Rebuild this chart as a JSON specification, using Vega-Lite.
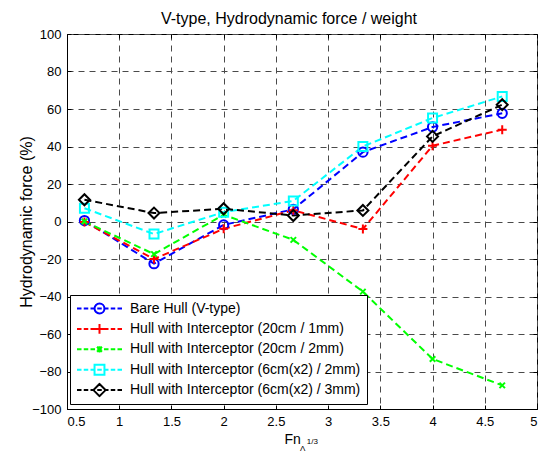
{
  "$schema": "https://vega.github.io/schema/vega-lite/v6.json",
  "width": 470,
  "height": 375,
  "autosize": {"type": "none"},
  "padding": {"left": 67, "top": 34, "right": 7, "bottom": 44},
  "background": "white",
  "config": {
    "font": "Liberation Sans",
    "view": {"stroke": "black", "strokeWidth": 1},
    "axis": {
      "labelFont": "Liberation Sans",
      "labelFontSize": 13,
      "labelColor": "black",
      "titleFont": "Liberation Sans",
      "titleFontSize": 16,
      "titleFontWeight": "normal",
      "titleColor": "black",
      "domainColor": "black",
      "tickColor": "black",
      "gridColor": "#4a4a4a",
      "gridDash": [6, 5],
      "gridWidth": 1,
      "gridOpacity": 1
    },
    "title": {"font": "Liberation Sans", "fontSize": 16, "fontWeight": "normal", "color": "black"}
  },
  "title": {"text": "V-type, Hydrodynamic force / weight", "anchor": "middle", "offset": 1, "dx": -13},
  "resolve": {"axis": {"x": "independent", "y": "independent"}},
  "data": {
    "values": [
      {"series": "Bare Hull (V-type)", "fn": 0.667, "force": 0.5},
      {"series": "Bare Hull (V-type)", "fn": 1.333, "force": -22.5},
      {"series": "Bare Hull (V-type)", "fn": 2.0, "force": -1.8},
      {"series": "Bare Hull (V-type)", "fn": 2.667, "force": 6.5},
      {"series": "Bare Hull (V-type)", "fn": 3.333, "force": 37.0},
      {"series": "Bare Hull (V-type)", "fn": 4.0, "force": 50.4},
      {"series": "Bare Hull (V-type)", "fn": 4.667, "force": 57.7},
      {"series": "Hull with Interceptor (20cm / 1mm)", "fn": 0.667, "force": -0.3},
      {"series": "Hull with Interceptor (20cm / 1mm)", "fn": 1.333, "force": -20.0},
      {"series": "Hull with Interceptor (20cm / 1mm)", "fn": 2.0, "force": -3.9},
      {"series": "Hull with Interceptor (20cm / 1mm)", "fn": 2.667, "force": 6.0},
      {"series": "Hull with Interceptor (20cm / 1mm)", "fn": 3.333, "force": -4.0},
      {"series": "Hull with Interceptor (20cm / 1mm)", "fn": 4.0, "force": 40.4},
      {"series": "Hull with Interceptor (20cm / 1mm)", "fn": 4.667, "force": 49.0},
      {"series": "Hull with Interceptor (20cm / 2mm)", "fn": 0.667, "force": 0.0},
      {"series": "Hull with Interceptor (20cm / 2mm)", "fn": 1.333, "force": -17.4},
      {"series": "Hull with Interceptor (20cm / 2mm)", "fn": 2.0, "force": 3.6},
      {"series": "Hull with Interceptor (20cm / 2mm)", "fn": 2.667, "force": -9.8},
      {"series": "Hull with Interceptor (20cm / 2mm)", "fn": 3.333, "force": -37.4},
      {"series": "Hull with Interceptor (20cm / 2mm)", "fn": 4.0, "force": -73.3},
      {"series": "Hull with Interceptor (20cm / 2mm)", "fn": 4.667, "force": -87.4},
      {"series": "Hull with Interceptor (6cm(x2) / 2mm)", "fn": 0.667, "force": 7.1},
      {"series": "Hull with Interceptor (6cm(x2) / 2mm)", "fn": 1.333, "force": -6.7},
      {"series": "Hull with Interceptor (6cm(x2) / 2mm)", "fn": 2.0, "force": 5.0},
      {"series": "Hull with Interceptor (6cm(x2) / 2mm)", "fn": 2.667, "force": 11.0},
      {"series": "Hull with Interceptor (6cm(x2) / 2mm)", "fn": 3.333, "force": 40.0},
      {"series": "Hull with Interceptor (6cm(x2) / 2mm)", "fn": 4.0, "force": 55.2},
      {"series": "Hull with Interceptor (6cm(x2) / 2mm)", "fn": 4.667, "force": 66.7},
      {"series": "Hull with Interceptor (6cm(x2) / 3mm)", "fn": 0.667, "force": 11.6},
      {"series": "Hull with Interceptor (6cm(x2) / 3mm)", "fn": 1.333, "force": 4.5},
      {"series": "Hull with Interceptor (6cm(x2) / 3mm)", "fn": 2.0, "force": 6.8},
      {"series": "Hull with Interceptor (6cm(x2) / 3mm)", "fn": 2.667, "force": 3.2},
      {"series": "Hull with Interceptor (6cm(x2) / 3mm)", "fn": 3.333, "force": 5.9},
      {"series": "Hull with Interceptor (6cm(x2) / 3mm)", "fn": 4.0, "force": 45.4},
      {"series": "Hull with Interceptor (6cm(x2) / 3mm)", "fn": 4.667, "force": 62.3}
    ]
  },
  "encoding": {
    "x": {
      "field": "fn", "type": "quantitative",
      "scale": {"domain": [0.5, 5], "nice": false, "zero": false},
      "axis": {"values": [0.5, 1, 1.5, 2, 2.5, 3, 3.5, 4, 4.5, 5], "format": "~g", "title": null, "tickSize": -4, "labelPadding": 10}
    },
    "y": {
      "field": "force", "type": "quantitative",
      "scale": {"domain": [-100, 100], "nice": false, "zero": false},
      "axis": {"values": [-100, -80, -60, -40, -20, 0, 20, 40, 60, 80, 100], "title": "Hydrodynamic force (%)", "tickSize": -4, "labelPadding": 10, "titlePadding": -3}
    }
  },
  "layer": [
    {
      "encoding": {
        "stroke": {
          "field": "series", "type": "nominal",
          "scale": {"range": ["#0000ff", "#ff0000", "#00ff00", "#00ffff", "#000000"]},
          "legend": null
        }
      },
      "layer": [
        {"mark": {"type": "line", "strokeDash": [7, 4], "strokeWidth": 2}},
        {
          "transform": [{"filter": "datum.series == 'Bare Hull (V-type)'"}],
          "mark": {"type": "point", "shape": "circle", "filled": false, "size": 86, "strokeWidth": 2, "opacity": 1}
        },
        {
          "transform": [{"filter": "datum.series == 'Hull with Interceptor (20cm / 1mm)'"}],
          "mark": {"type": "point", "shape": "M-1,0H1M0,-1V1", "filled": false, "size": 81, "strokeWidth": 2, "opacity": 1}
        },
        {
          "transform": [{"filter": "datum.series == 'Hull with Interceptor (20cm / 2mm)'"}],
          "mark": {"type": "point", "shape": "M-1,-1L1,1M-1,1L1,-1", "filled": false, "size": 30, "strokeWidth": 2, "opacity": 1}
        },
        {
          "transform": [{"filter": "datum.series == 'Hull with Interceptor (6cm(x2) / 2mm)'"}],
          "mark": {"type": "point", "shape": "square", "filled": false, "size": 81, "strokeWidth": 2, "opacity": 1}
        },
        {
          "transform": [{"filter": "datum.series == 'Hull with Interceptor (6cm(x2) / 3mm)'"}],
          "mark": {"type": "point", "shape": "diamond", "filled": false, "size": 121, "strokeWidth": 2, "opacity": 1}
        }
      ]
    },
    {
      "mark": {"type": "point", "filled": false, "opacity": 0, "strokeWidth": 2},
      "encoding": {
        "x": {"field": "fn", "type": "quantitative", "axis": null},
        "y": {"field": "force", "type": "quantitative", "axis": null},
        "color": {
          "field": "series", "type": "nominal",
          "scale": {
            "domain": ["Bare Hull (V-type)", "Hull with Interceptor (20cm / 1mm)", "Hull with Interceptor (20cm / 2mm)", "Hull with Interceptor (6cm(x2) / 2mm)", "Hull with Interceptor (6cm(x2) / 3mm)"],
            "range": ["#0000ff", "#ff0000", "#00ff00", "#00ffff", "#000000"]
          },
          "legend": {
            "title": null,
            "orient": "none",
            "legendX": 3,
            "legendY": 261,
            "padding": 6,
            "strokeColor": "black",
            "fillColor": "white",
            "symbolSize": 2025,
            "symbolStrokeWidth": 2,
            "symbolOpacity": 1,
            "symbolFillColor": "transparent",
            "clipHeight": 15,
            "labelFont": "Liberation Sans",
            "labelFontSize": 14,
            "labelColor": "black",
            "labelLimit": 0,
            "labelOffset": 7,
            "rowPadding": 5.4
          }
        },
        "shape": {
          "field": "series", "type": "nominal",
          "scale": {
            "domain": ["Bare Hull (V-type)", "Hull with Interceptor (20cm / 1mm)", "Hull with Interceptor (20cm / 2mm)", "Hull with Interceptor (6cm(x2) / 2mm)", "Hull with Interceptor (6cm(x2) / 3mm)"],
            "range": [
              "M-1,0H-0.8M-0.7,0H-0.5M-0.4,0H-0.2M-0.1,0H0.1M0.2,0H0.4M0.5,0H0.7M0.8,0H1M0.22,0C0.22,0.121 0.121,0.22 0,0.22C-0.121,0.22 -0.22,0.121 -0.22,0C-0.22,-0.121 -0.121,-0.22 0,-0.22C0.121,-0.22 0.22,-0.121 0.22,0Z",
              "M-1,0H-0.8M-0.7,0H-0.5M-0.4,0H-0.2M-0.1,0H0.1M0.2,0H0.4M0.5,0H0.7M0.8,0H1M-0.22,0H0.22M0,-0.22V0.22",
              "M-1,0H-0.8M-0.7,0H-0.5M-0.4,0H-0.2M-0.1,0H0.1M0.2,0H0.4M0.5,0H0.7M0.8,0H1M-0.11,-0.11L0.11,0.11M-0.11,0.11L0.11,-0.11M0,-0.14V0.14",
              "M-1,0H-0.8M-0.7,0H-0.5M-0.4,0H-0.2M-0.1,0H0.1M0.2,0H0.4M0.5,0H0.7M0.8,0H1M-0.22,-0.22H0.22V0.22H-0.22Z",
              "M-1,0H-0.8M-0.7,0H-0.5M-0.4,0H-0.2M-0.1,0H0.1M0.2,0H0.4M0.5,0H0.7M0.8,0H1M0,-0.27L0.27,0L0,0.27L-0.27,0Z"
            ]
          },
          "legend": {
            "title": null,
            "orient": "none",
            "legendX": 3,
            "legendY": 261,
            "padding": 6,
            "strokeColor": "black",
            "fillColor": "white",
            "symbolSize": 2025,
            "symbolStrokeWidth": 2,
            "symbolOpacity": 1,
            "symbolFillColor": "transparent",
            "clipHeight": 15,
            "labelFont": "Liberation Sans",
            "labelFontSize": 14,
            "labelColor": "black",
            "labelLimit": 0,
            "labelOffset": 7,
            "rowPadding": 5.4
          }
        }
      }
    },
    {
      "transform": [{"filter": "datum.series == 'Bare Hull (V-type)' && datum.fn == 0.667"}],
      "mark": {"type": "point", "opacity": 0},
      "encoding": {
        "x": {"field": "fn", "type": "quantitative", "axis": {"orient": "top", "values": [0.5, 1, 1.5, 2, 2.5, 3, 3.5, 4, 4.5, 5], "labels": false, "domain": false, "grid": false, "title": null, "tickSize": -4}},
        "y": {"field": "force", "type": "quantitative", "axis": {"orient": "right", "values": [-100, -80, -60, -40, -20, 0, 20, 40, 60, 80, 100], "labels": false, "domain": false, "grid": false, "title": null, "tickSize": -4}}
      }
    },
    {
      "transform": [{"filter": "datum.series == 'Bare Hull (V-type)' && datum.fn == 0.667"}],
      "mark": {"type": "text", "text": "Fn", "align": "left", "baseline": "alphabetic", "fontSize": 14, "font": "Liberation Sans", "dy": 35, "fill": "black"},
      "encoding": {"x": {"datum": 2.583, "axis": null}, "y": {"datum": -100, "axis": null}}
    },
    {
      "transform": [{"filter": "datum.series == 'Bare Hull (V-type)' && datum.fn == 0.667"}],
      "mark": {"type": "text", "text": "Λ", "align": "left", "baseline": "alphabetic", "fontSize": 8, "font": "Liberation Sans", "dy": 42, "fill": "black"},
      "encoding": {"x": {"datum": 2.73, "axis": null}, "y": {"datum": -100, "axis": null}}
    },
    {
      "transform": [{"filter": "datum.series == 'Bare Hull (V-type)' && datum.fn == 0.667"}],
      "mark": {"type": "text", "text": "1/3", "align": "left", "baseline": "alphabetic", "fontSize": 8, "font": "Liberation Sans", "dy": 34.5, "fill": "black"},
      "encoding": {"x": {"datum": 2.796, "axis": null}, "y": {"datum": -100, "axis": null}}
    }
  ]
}
